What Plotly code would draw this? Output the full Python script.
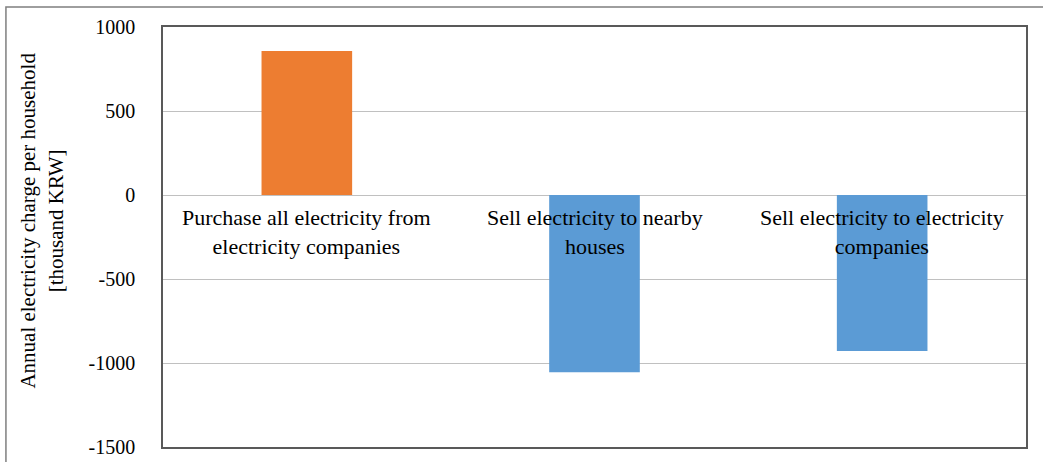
import plotly.graph_objects as go

categories = ["Purchase all electricity from<br>electricity companies",
              "Sell electricity to nearby<br>houses",
              "Sell electricity to electricity<br>companies"]
values = [857, -1055, -928]
bar_colors = ["#ED7D31", "#5B9BD5", "#5B9BD5"]
y_ticks = [1000, 500, 0, -500, -1000, -1500]
y_title = "Annual electricity charge per household<br>[thousand KRW]"

FONT = "Liberation Serif"

fig = go.Figure()
fig.add_trace(go.Bar(x=categories, y=values, marker=dict(color=bar_colors, line=dict(width=0)),
                     width=0.315, showlegend=False))

for c in categories:
    fig.add_annotation(x=c, y=0, xref="x", yref="y", text=c, showarrow=False,
                       yanchor="top", yshift=-8, font=dict(family=FONT, size=22, color="#000000"))

fig.add_annotation(x=-0.138, y=0.54, xref="paper", yref="paper", text=y_title, textangle=-90,
                   xshift=-30, showarrow=False, font=dict(family=FONT, size=21, color="#000000"))

fig.add_shape(type="rect", xref="paper", yref="paper", x0=-0.182, x1=1.1, y0=-0.2, y1=1.0476,
              line=dict(color="#7f7f7f", width=1.5), layer="below")

fig.update_layout(
    width=1043, height=462,
    margin=dict(l=163, r=17, t=27, b=15),
    plot_bgcolor="white", paper_bgcolor="white",
    bargap=0.69,
    xaxis=dict(showticklabels=False, showgrid=False, zeroline=False, showline=True,
               linecolor="#595959", linewidth=1.5, mirror=True, range=[-0.5, 2.5],
               automargin=False),
    yaxis=dict(range=[-1500, 1000], tickvals=y_ticks, ticktext=[str(v) for v in y_ticks],
               showgrid=True, gridcolor="#c0c0c0", gridwidth=1.2,
               zeroline=True, zerolinecolor="#c0c0c0", zerolinewidth=1.2,
               showline=True, linecolor="#595959", linewidth=1.5, mirror=True,
               ticks="", ticklabelstandoff=22, automargin=False,
               tickfont=dict(family=FONT, size=20, color="#000000")),
)

fig.write_html("out.html")
